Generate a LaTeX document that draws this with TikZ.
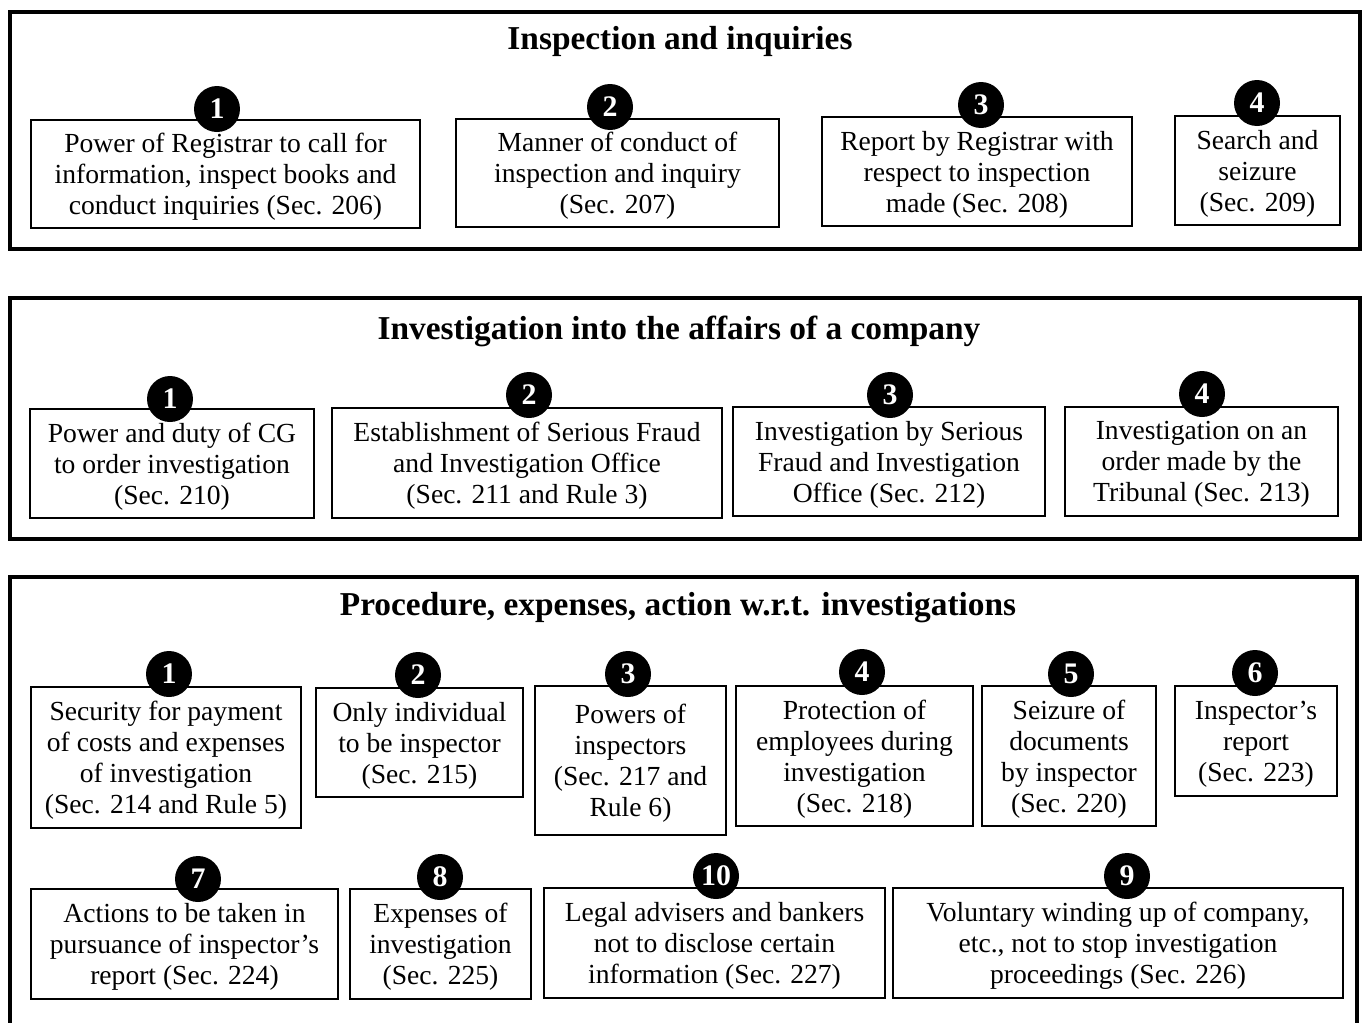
\documentclass[tikz,border=0pt]{standalone}
\usepackage{fontspec}
\setmainfont{Liberation Serif}

\tikzset{
  panel/.style={draw, line width=2.8pt},
  paneltitle/.style={font=\fontsize{19}{22}\selectfont\bfseries},
  itembox/.style={draw, line width=1pt, inner sep=0pt, align=center,
    text depth=-3.5pt, font=\fontsize{15.7}{17.6}\selectfont},
  numdot/.style={circle, fill=black, text=white, inner sep=0pt,
    minimum size=0.92cm, font=\fontsize{17}{17}\selectfont\bfseries}
}

\begin{document}
\begin{tikzpicture}[x=0.02cm, y=-0.02cm]

    \clip (0,0) rectangle (1365,1022);
    \fill[white] (0,0) rectangle (1365,1022);

    % inspection and inquiries
    \draw[panel] (10,12) rectangle (1360,249);
    \node[paneltitle] (t1) at (680,41) {Inspection and inquiries};

    \node[itembox, minimum width=7.78cm, minimum height=2.16cm] (a1) at (225.5,174) {Power of Registrar to call for\\information, inspect books and\\conduct inquiries (Sec. 206)};
    \node[itembox, minimum width=6.46cm, minimum height=2.16cm] (a2) at (617.5,173) {Manner of conduct of\\inspection and inquiry\\(Sec. 207)};
    \node[itembox, minimum width=6.2cm, minimum height=2.18cm] (a3) at (977,171.5) {Report by Registrar with\\respect to inspection\\made (Sec. 208)};
    \node[itembox, minimum width=3.3cm, minimum height=2.18cm] (a4) at (1257.5,170.5) {Search and\\seizure\\(Sec. 209)};

    \node[numdot] (na1) at (217,109) {1};
    \node[numdot] (na2) at (610,107) {2};
    \node[numdot] (na3) at (981,105) {3};
    \node[numdot] (na4) at (1257,103) {4};

    % investigation into the affairs
    \draw[panel] (10,298) rectangle (1360,539);
    \node[paneltitle] (t2) at (679,331) {Investigation into the affairs of a company};

    \node[itembox, minimum width=5.68cm, minimum height=2.18cm] (b1) at (172,463.5) {Power and duty of CG\\to order investigation\\(Sec. 210)};
    \node[itembox, minimum width=7.8cm, minimum height=2.2cm] (b2) at (527,463) {Establishment of Serious Fraud\\and Investigation Office\\(Sec. 211 and Rule 3)};
    \node[itembox, minimum width=6.24cm, minimum height=2.18cm] (b3) at (889,461.5) {Investigation by Serious\\Fraud and Investigation\\Office (Sec. 212)};
    \node[itembox, minimum width=5.46cm, minimum height=2.18cm] (b4) at (1201.5,461.5) {Investigation on an\\order made by the\\Tribunal (Sec. 213)};

    \node[numdot] (nb1) at (170,399) {1};
    \node[numdot] (nb2) at (529,395) {2};
    \node[numdot] (nb3) at (890,395) {3};
    \node[numdot] (nb4) at (1202,394) {4};

    % procedure, expenses, action
    \draw[panel] (10,577) rectangle (1357,1060);
    \node[paneltitle] (t3) at (678,608) {Procedure, expenses, action w.r.t. investigations};

    \node[itembox, minimum width=5.4cm, minimum height=2.82cm] (c1) at (166,757.5) {Security for payment\\of costs and expenses\\of investigation\\(Sec. 214 and Rule 5)};
    \node[itembox, minimum width=4.14cm, minimum height=2.18cm] (c2) at (419.5,742.5) {Only individual\\to be inspector\\(Sec. 215)};
    \node[itembox, minimum width=3.82cm, minimum height=2.98cm] (c3) at (630.5,760.5) {Powers of\\inspectors\\(Sec. 217 and\\Rule 6)};
    \node[itembox, minimum width=4.74cm, minimum height=2.8cm] (c4) at (854.5,756) {Protection of\\employees during\\investigation\\(Sec. 218)};
    \node[itembox, minimum width=3.48cm, minimum height=2.8cm] (c5) at (1069,756) {Seizure of\\documents\\by inspector\\(Sec. 220)};
    \node[itembox, minimum width=3.24cm, minimum height=2.2cm] (c6) at (1256,741) {Inspector’s\\report\\(Sec. 223)};

    \node[numdot] (nc1) at (169,674) {1};
    \node[numdot] (nc2) at (418,675) {2};
    \node[numdot] (nc3) at (628,674) {3};
    \node[numdot] (nc4) at (862,672) {4};
    \node[numdot] (nc5) at (1071,674) {5};
    \node[numdot] (nc6) at (1255,673) {6};

    \node[itembox, minimum width=6.14cm, minimum height=2.2cm] (c7) at (184.5,944) {Actions to be taken in\\pursuance of inspector’s\\report (Sec. 224)};
    \node[itembox, minimum width=3.62cm, minimum height=2.2cm] (c8) at (440.5,944) {Expenses of\\investigation\\(Sec. 225)};
    \node[itembox, minimum width=6.82cm, minimum height=2.2cm] (c10) at (714.5,943) {Legal advisers and bankers\\not to disclose certain\\information (Sec. 227)};
    \node[itembox, minimum width=9cm, minimum height=2.2cm] (c9) at (1118,943) {Voluntary winding up of company,\\etc., not to stop investigation\\proceedings (Sec. 226)};

    \node[numdot] (nc7) at (198,879) {7};
    \node[numdot] (nc8) at (440,877) {8};
    \node[numdot] (nc10) at (716,876) {10};
    \node[numdot] (nc9) at (1127,876) {9};

\end{tikzpicture}
\end{document}
